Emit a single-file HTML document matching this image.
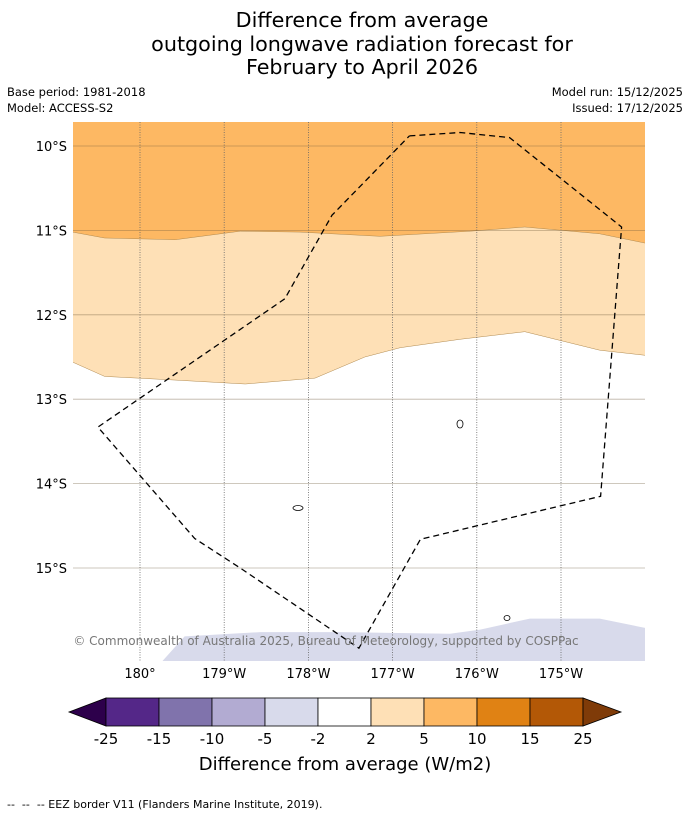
<!DOCTYPE html>
<html><head><meta charset="utf-8"><style>
body{margin:0;background:#fff;width:690px;height:816px;overflow:hidden;font-family:"DejaVu Sans","Liberation Sans",sans-serif}
</style></head><body>
<svg id="chart" width="690" height="816" xmlns="http://www.w3.org/2000/svg" font-family="DejaVu Sans, Liberation Sans, sans-serif">
<g font-size="20.7" text-anchor="middle" fill="#000">
<text x="362" y="27">Difference from average</text>
<text x="362" y="51">outgoing longwave radiation forecast for</text>
<text x="362" y="74">February to April 2026</text>
</g>
<g font-size="11.5" fill="#000">
<text x="7" y="96">Base period: 1981-2018</text>
<text x="7" y="112">Model: ACCESS-S2</text>
<text x="683" y="96" text-anchor="end">Model run: 15/12/2025</text>
<text x="683" y="112" text-anchor="end">Issued: 17/12/2025</text>
</g>
<defs><clipPath id="mapclip"><rect x="73" y="122" width="572" height="539"/></clipPath></defs>
<g id="map" clip-path="url(#mapclip)"></g>
<g id="axes"></g>
<g id="cbar"></g>
<text x="345" y="770" text-anchor="middle" font-size="18">Difference from average (W/m2)</text>
<text x="7" y="808" font-size="11" xml:space="preserve">--  --  -- EEZ border V11 (Flanders Marine Institute, 2019).</text>
</svg>
<script>
// Data (degrees west of 180°, latitude south)
const lonTicks=[0,1,2,3,4,5];
const lonLabels=["180°","179°W","178°W","177°W","176°W","175°W"];
const latTicks=[10,11,12,13,14,15];
const latLabels=["10°S","11°S","12°S","13°S","14°S","15°S"];
const b1Lon=[-0.8,-0.42,0.42,1.19,1.9,2.85,3.92,4.57,5.46,6.0];
const b1Lat=[11.02,11.09,11.11,11.01,11.02,11.07,11.01,10.96,11.04,11.15];
const b2Lon=[-0.8,-0.42,0.36,1.25,2.08,2.67,3.09,3.8,4.57,5.46,6.0];
const b2Lat=[12.56,12.73,12.77,12.82,12.75,12.5,12.39,12.29,12.2,12.42,12.48];
const b3Lon=[0.27,0.53,1.43,2.38,3.68,4.04,4.63,5.46,6.0];
const b3Lat=[16.1,15.81,15.76,15.76,15.78,15.73,15.6,15.6,15.71];
const eezLon=[3.2,3.8,4.39,5.72,5.47,3.33,2.6,1.19,0.65,-0.5,1.72,2.28,3.2];
const eezLat=[9.88,9.84,9.9,10.96,14.15,14.66,15.95,15.0,14.65,13.33,11.81,10.82,9.88];
const cbLabels=["-25","-15","-10","-5","-2","2","5","10","15","25"];
const cbColors=["#542788","#8073ac","#b2abd2","#d8daeb","#ffffff","#fee0b6","#fdb863","#e08214","#b35806"];
const cbExt=["#2d004b","#7f3b08"];

const NS="http://www.w3.org/2000/svg";
const X=d=>140+d*84.2, Y=l=>146+(l-10)*84.4;
function mk(tag,at,par){const e=document.createElementNS(NS,tag);for(const k in at)e.setAttribute(k,at[k]);par.appendChild(e);return e;}
const map=document.getElementById('map'), axes=document.getElementById('axes'), cb=document.getElementById('cbar');
const pts=(lo,la)=>lo.map((d,i)=>X(d).toFixed(1)+','+Y(la[i]).toFixed(1));
let r=mk('rect',{x:73,y:122,width:572,height:539,fill:'#fdb863'},map);

let p=mk('polygon',{points:pts(b1Lon,b1Lat).join(' ')+' 700,700 0,700',fill:'#fee0b6',stroke:'#b08a50','stroke-width':0.5},map);

p=mk('polygon',{points:pts(b2Lon,b2Lat).join(' ')+' 700,700 0,700',fill:'#ffffff',stroke:'#b08a50','stroke-width':0.5},map);

p=mk('polygon',{points:pts(b3Lon,b3Lat).join(' ')+' 700,700 150,700',fill:'#d8daeb'},map);

lonTicks.forEach((d,i)=>{
 let l=mk('line',{x1:X(d),x2:X(d),y1:122,y2:661,stroke:'#666','stroke-width':0.8,'stroke-dasharray':'1,1.5'},map);
 
 let t=mk('text',{x:X(d),y:678,'text-anchor':'middle','font-size':13},axes);t.textContent=lonLabels[i];
 
});
latTicks.forEach((l,i)=>{
 let g=mk('line',{x1:73,x2:645,y1:Y(l),y2:Y(l),stroke:'rgba(110,90,60,0.45)','stroke-width':0.8},map);
 
 let t=mk('text',{x:67,y:Y(l)+5,'text-anchor':'end','font-size':13},axes);t.textContent=latLabels[i];
 
});
let e=mk('polyline',{points:pts(eezLon,eezLat).join(' '),fill:'none',stroke:'#000','stroke-width':1.3,'stroke-dasharray':'6,4'},map);

[[460,424,3,4],[298,508,5,2.5],[507,618,3,2.5]].forEach(a=>{
 let i=mk('ellipse',{cx:a[0],cy:a[1],rx:a[2],ry:a[3],fill:'#fff',stroke:'#000','stroke-width':0.8},map);
 
});
let c=mk('text',{x:326,y:645,'text-anchor':'middle','font-size':12,fill:'#777'},map);
c.textContent='© Commonwealth of Australia 2025, Bureau of Meteorology, supported by COSPPac';

// colorbar
const cx0=106,cw=53,cy=698,ch=28;
let tl=mk('polygon',{points:`${cx0},${cy} ${cx0},${cy+ch} 69,${cy+ch/2}`,fill:cbExt[0],stroke:'#000','stroke-width':0.8},cb);

cbColors.forEach((col,i)=>{
 let b=mk('rect',{x:cx0+i*cw,y:cy,width:cw,height:ch,fill:col,stroke:'#000','stroke-width':0.8},cb);
 
});
let x1=cx0+cbColors.length*cw;
let tr=mk('polygon',{points:`${x1},${cy} ${x1},${cy+ch} 621,${cy+ch/2}`,fill:cbExt[1],stroke:'#000','stroke-width':0.8},cb);

cbLabels.forEach((s,i)=>{
 let t=mk('text',{x:cx0+i*cw,y:744,'text-anchor':'middle','font-size':15},cb);t.textContent=s;
 
});
</script>
</body></html>
